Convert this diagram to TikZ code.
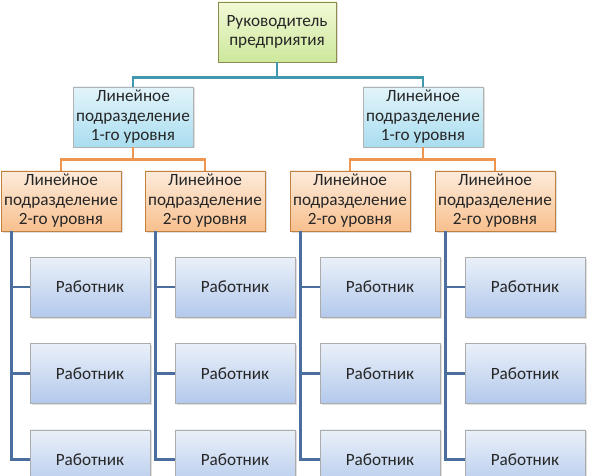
\documentclass[tikz,border=0pt]{standalone}
\usepackage{fontspec}
\setmainfont{Carlito}
\usepackage{xcolor}
\usetikzlibrary{positioning,calc,shadows}

\definecolor{topA}{HTML}{F2F9D6}
\definecolor{topB}{HTML}{CDE89C}
\definecolor{lvlA}{HTML}{E3F4FA}
\definecolor{lvlB}{HTML}{A9DDEF}
\definecolor{subA}{HTML}{FDEBDB}
\definecolor{subB}{HTML}{F8C08E}
\definecolor{wrkA}{HTML}{EAF0F9}
\definecolor{wrkB}{HTML}{B3C9EC}
\definecolor{tealline}{HTML}{3F98AE}
\definecolor{orgline}{HTML}{EE9550}
\definecolor{blueline}{HTML}{4A6F9E}

\begin{document}
\begin{tikzpicture}[
    x=1pt, y=-1pt,
    box/.style={draw=gray!70, minimum width=120pt, minimum height=60pt,
                align=center, inner sep=1pt, text=black!85,
                font=\fontsize{17.2}{19.5}\selectfont,
                drop shadow={opacity=0.25, shadow xshift=1.5pt, shadow yshift=-1.5pt}},
    headbox/.style={box, top color=topA, bottom color=topB, draw=olive!45!gray},
    lvlbox/.style={box, top color=lvlA, bottom color=lvlB, draw=gray!60},
    subbox/.style={box, top color=subA, bottom color=subB, draw=orange!50!gray},
    wrkbox/.style={box, top color=wrkA, bottom color=wrkB, draw=gray!65},
    conn/.style={line width=2.8pt}
]
    \useasboundingbox (0,0) rectangle (600,476);
    \clip (0,0) rectangle (600,476);

    % boxes
    \node[headbox, minimum width=118pt] (head) at (277,32) {Руководитель\\предприятия};
    \node[lvlbox] (lvA) at (133,117) {Линейное\\подразделение\\1-го уровня};
    \node[lvlbox] (lvB) at (423,117) {Линейное\\подразделение\\1-го уровня};
    \node[subbox] (sub1) at (61,201) {Линейное\\подразделение\\2-го уровня};
    \node[subbox] (sub2) at (205,201) {Линейное\\подразделение\\2-го уровня};
    \node[subbox] (sub3) at (350,201) {Линейное\\подразделение\\2-го уровня};
    \node[subbox] (sub4) at (495,201) {Линейное\\подразделение\\2-го уровня};

    \foreach \c/\x in {1/90, 2/235, 3/380, 4/525} {
        \node[wrkbox] (w\c a) at (\x,287) {Работник};
        \node[wrkbox, below=26pt of w\c a] (w\c b) {Работник};
        \node[wrkbox, below=26pt of w\c b] (w\c c) {Работник};
    }

    % connectors
    \draw[conn, tealline] (head.south) -- ++(0,15) -| (lvA.north);
    \draw[conn, tealline] (head.south) -- ++(0,15) -| (lvB.north);
    \draw[conn, orgline] (lvA.south) -- ++(0,12) -| (sub1.north);
    \draw[conn, orgline] (lvA.south) -- ++(0,12) -| (sub2.north);
    \draw[conn, orgline] (lvB.south) -- ++(0,12) -| (sub3.north);
    \draw[conn, orgline] (lvB.south) -- ++(0,12) -| (sub4.north);

    \foreach \c in {1,2,3,4} {
        \coordinate (col\c) at ([xshift=11pt]sub\c.south west);
        \draw[conn, blueline] (col\c) |- (w\c c.west);
        \draw[conn, blueline] (col\c) |- (w\c b.west);
        \draw[conn, blueline] (col\c) |- (w\c a.west);
    }
\end{tikzpicture}
\end{document}
